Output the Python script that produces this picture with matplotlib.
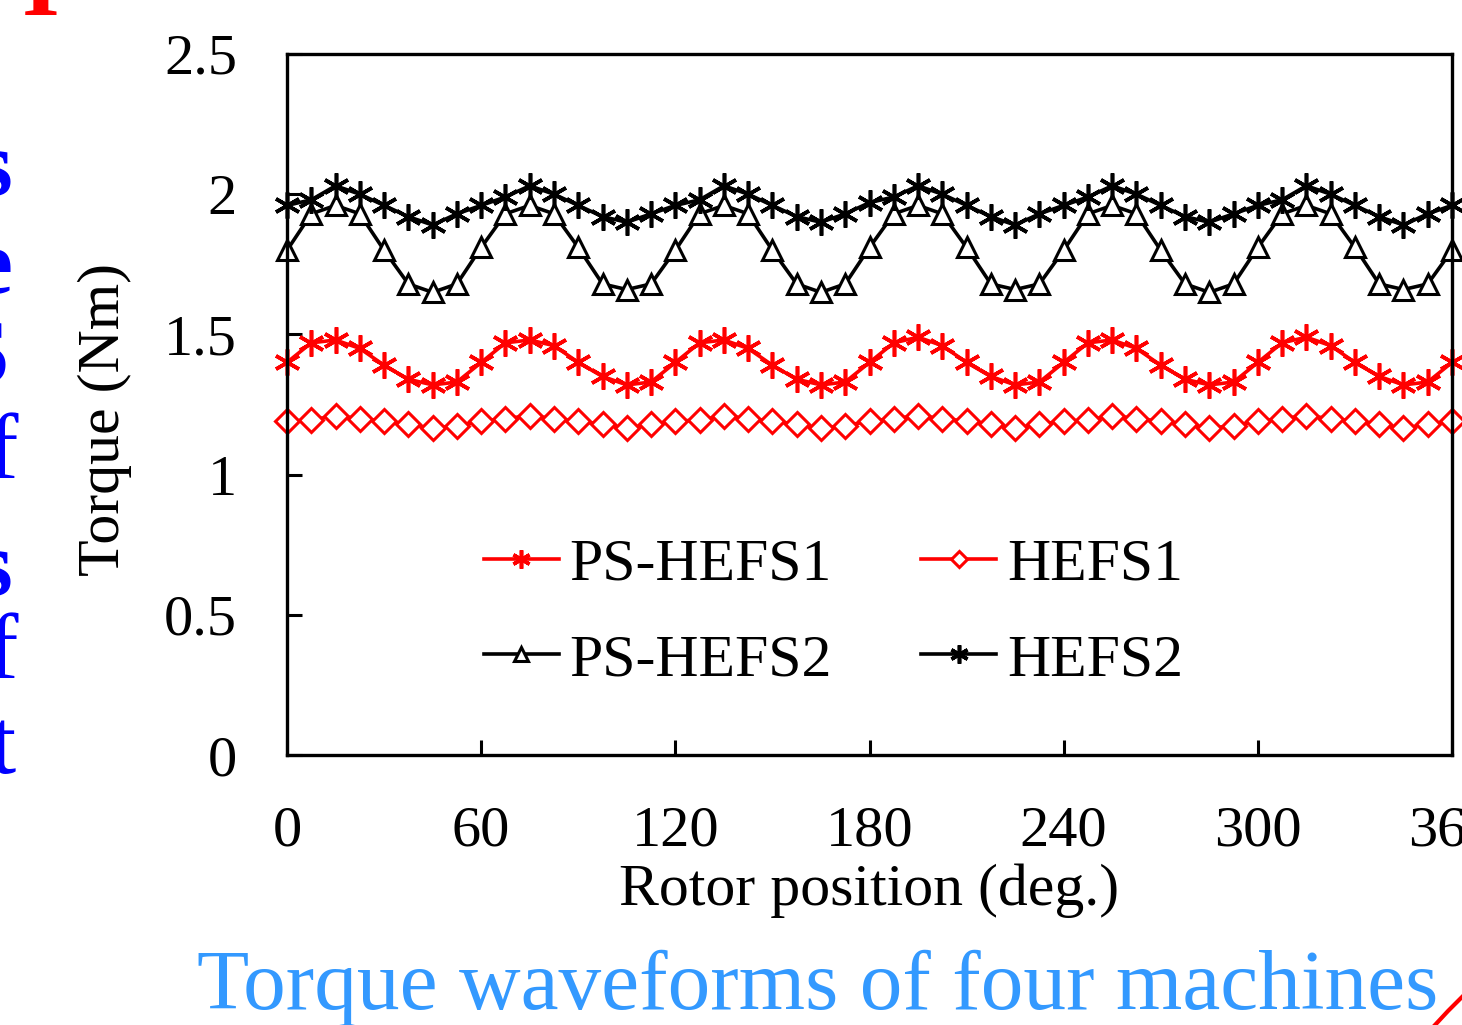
import matplotlib
matplotlib.use("Agg")
import matplotlib.pyplot as plt
from matplotlib.lines import Line2D
from matplotlib.ticker import FormatStrFormatter

# rotor position, one point every 7.5 deg
positions = [i * 7.5 for i in range(49)]

ps_hefs1 = [1.40, 1.47, 1.48, 1.45, 1.39, 1.34, 1.32, 1.33,
            1.40, 1.47, 1.48, 1.46, 1.40, 1.35, 1.32, 1.33,
            1.40, 1.47, 1.48, 1.45, 1.39, 1.34, 1.32, 1.33,
            1.40, 1.47, 1.49, 1.46, 1.40, 1.35, 1.32, 1.33,
            1.40, 1.47, 1.48, 1.45, 1.39, 1.34, 1.32, 1.33,
            1.40, 1.47, 1.49, 1.46, 1.40, 1.35, 1.32, 1.33, 1.40]

hefs1 = [1.19, 1.195, 1.21, 1.20, 1.19, 1.18, 1.165, 1.175,
         1.19, 1.20, 1.21, 1.20, 1.19, 1.18, 1.165, 1.18,
         1.19, 1.195, 1.21, 1.20, 1.19, 1.18, 1.165, 1.175,
         1.19, 1.20, 1.21, 1.20, 1.19, 1.18, 1.165, 1.18,
         1.19, 1.195, 1.21, 1.20, 1.19, 1.18, 1.165, 1.175,
         1.19, 1.20, 1.21, 1.20, 1.19, 1.18, 1.165, 1.18, 1.19]

ps_hefs2 = [1.80, 1.93, 1.96, 1.93, 1.80, 1.68, 1.65, 1.68,
            1.81, 1.93, 1.96, 1.93, 1.81, 1.68, 1.66, 1.68,
            1.80, 1.93, 1.96, 1.93, 1.80, 1.68, 1.65, 1.68,
            1.81, 1.93, 1.96, 1.93, 1.81, 1.68, 1.66, 1.68,
            1.80, 1.93, 1.96, 1.93, 1.80, 1.68, 1.65, 1.68,
            1.81, 1.93, 1.96, 1.93, 1.81, 1.68, 1.66, 1.68, 1.80]

hefs2 = [1.96, 1.98, 2.03, 2.00, 1.96, 1.92, 1.89, 1.93,
         1.96, 1.99, 2.03, 2.00, 1.96, 1.92, 1.90, 1.93,
         1.96, 1.98, 2.03, 2.00, 1.96, 1.92, 1.90, 1.93,
         1.97, 1.99, 2.03, 2.00, 1.96, 1.92, 1.89, 1.93,
         1.96, 1.99, 2.03, 2.00, 1.96, 1.92, 1.90, 1.93,
         1.96, 1.98, 2.03, 2.00, 1.96, 1.92, 1.89, 1.93, 1.96]

x_ticks = [0, 60, 120, 180, 240, 300, 360]
y_ticks = [0, 0.5, 1, 1.5, 2, 2.5]

plt.rcParams['font.family'] = ['Liberation Serif', 'DejaVu Serif']
W, H = 1462, 1025
fig = plt.figure(figsize=(W / 100, H / 100), dpi=100)
ax = fig.add_axes([287 / W, 1 - 755 / H, (1452 - 287) / W, (755 - 54) / H])

asterisk = (6, 2, 0)
lw = 2.6
l1, = ax.plot(positions, ps_hefs1, color='red', lw=lw, marker=asterisk,
              markersize=19, mew=2.6, label='PS-HEFS1', clip_on=False)
l2, = ax.plot(positions, hefs1, color='red', lw=lw, marker='D',
              markersize=12, mfc='white', mec='red', mew=2.2,
              label='HEFS1', clip_on=False)
l3, = ax.plot(positions, ps_hefs2, color='black', lw=lw, marker='^',
              markersize=15, mfc='white', mec='black', mew=2.2,
              label='PS-HEFS2', clip_on=False)
l4, = ax.plot(positions, hefs2, color='black', lw=lw, marker=asterisk,
              markersize=19, mew=2.6, label='HEFS2', clip_on=False)

ax.set_xlim(0, 360)
ax.set_ylim(0, 2.5)
ax.set_xticks(x_ticks)
ax.set_yticks(y_ticks)
ax.yaxis.set_major_formatter(FormatStrFormatter('%g'))
ax.tick_params(direction='in', length=11, width=2.2, labelsize=42, pad=36)
for s in ax.spines.values():
    s.set_linewidth(2.4)

ax.text(-0.156, 0.478, 'Torque (Nm)', transform=ax.transAxes, rotation=90,
        ha='center', va='center', fontsize=43)
ax.text(0.5, -0.193, 'Rotor position (deg.)', transform=ax.transAxes,
        ha='center', va='center', fontsize=43)

ax.legend(handles=[l1, l3, l2, l4], ncol=2, loc='center',
          bbox_to_anchor=(0.469, 0.2025), frameon=False, fontsize=43,
          handlelength=1.25, handletextpad=0.18, columnspacing=1.5,
          labelspacing=0.68, markerscale=0.7)

# caption and clipped slide text around the chart
fig.text(818 / W, 1 - 1009 / H, 'Torque waveforms of four machines',
         color='#3399ff', fontsize=61.5, ha='center', va='baseline')
side = [('s', 172, 'bold', 12), ('e', 270, 'bold', 13), ('S', 361, 'bold', 9),
        ('f', 456, 'normal', 18), ('s', 572, 'bold', 12), ('f', 655, 'normal', 18),
        ('t', 751, 'normal', 15)]
for ch, yc, wt, xr in side:
    fig.text(xr / W, 1 - yc / H, ch, color='blue', fontsize=68, fontweight=wt,
             ha='right', va='center')
fig.text(41 / W, 1 - 15 / H, 'I', color='red', fontsize=70, fontweight='bold',
         ha='center', va='baseline')
fig.add_artist(Line2D([1435 / W, 1448 / W, 1462 / W],
                      [1 - 1025 / H, 1 - 1011 / H, 1 - 997 / H],
                      color='red', lw=3, transform=fig.transFigure))

fig.savefig('out.png', dpi=100)
